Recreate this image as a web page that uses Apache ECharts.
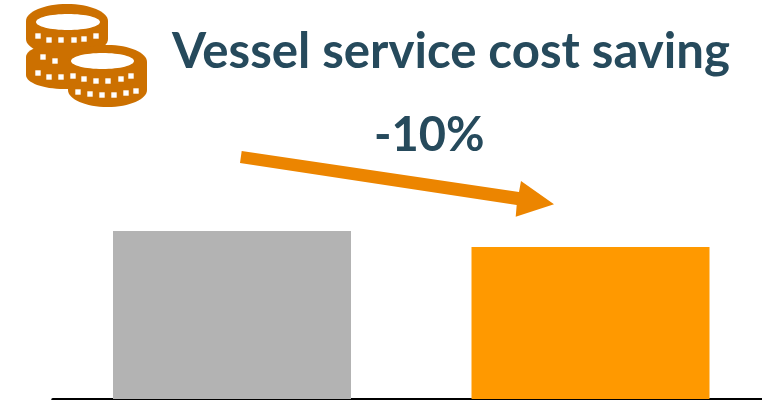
<!DOCTYPE html>
<html>
<head>
<meta charset="utf-8">
<style>html,body{margin:0;padding:0;background:#fff}#chart{width:762px;height:400px}</style>
<script src="https://cdn.jsdelivr.net/npm/echarts@6/dist/echarts.min.js"></script>
</head>
<body>
<div id="chart"></div>
<script>
// Indexed vessel service cost, before and after
const categories = ['Before', 'After'];
const costIndex = [100, 90.5];
const barColors = ['#B3B3B3', '#FF9900'];
const titleText = 'Vessel service cost saving';
const changeText = '-10%';

const TEXT = '#264A5C', ARROW = '#EC8500', COIN = '#CC7000';

function notches(points) {
  return points.map(([x, y]) => ({
    type: 'rect',
    shape: { x: x - 2.7, y: y - 2.7, width: 5.4, height: 5.4 },
    style: { fill: '#fff' }
  }));
}
function ellipse(cx, cy, rx, ry, fill) {
  return { type: 'ellipse', shape: { cx, cy, rx, ry }, style: { fill } };
}
// A coin stack is a flat cylinder: two ellipses joined by a rectangle
function cylinder(cx, rx, top, bottom, ry) {
  return [
    ellipse(cx, top + ry, rx, ry, COIN),
    ellipse(cx, bottom - ry, rx, ry, COIN),
    { type: 'rect', shape: { x: cx - rx, y: top + ry, width: rx * 2, height: bottom - top - ry * 2 }, style: { fill: COIN } }
  ];
}

const coinIcon = [
  ...cylinder(67, 41, 4, 56, 17),
  ...cylinder(64, 38, 43, 89, 14),
  ellipse(68, 22, 32, 8, '#fff'),
  ...notches([[38, 36], [49, 40], [61, 40], [74, 40], [84, 39], [96, 36]]),
  ...notches([[43, 57], [55, 61]]),
  ...notches([[38, 73], [49, 77], [61, 77]]),
  ...cylinder(107.5, 39.5, 45, 107, 17),
  ellipse(102.5, 61, 31.5, 8, '#fff'),
  ...notches([[73, 76], [84, 79], [96, 81], [108, 81], [121, 79], [131, 76]]),
  ...notches([[78, 92], [90, 94], [102, 95], [114, 95], [126, 93], [136, 91]])
];

const trendArrow = {
  type: 'polygon',
  shape: { points: [[241.7, 151], [519, 192], [521, 181], [554, 204.3], [515.7, 216.7], [516.7, 205], [240, 163]] },
  style: { fill: ARROW }
};

const chart = echarts.init(document.getElementById('chart'), null, { renderer: 'canvas' });
chart.setOption({
  animation: false,
  backgroundColor: '#fff',
  title: [
    { text: titleText, left: 172, top: 28, padding: 0,
      textStyle: { fontFamily: 'Lato', fontWeight: 'bold', fontSize: 49.2, color: TEXT } },
    { text: changeText, left: 374, top: 112, padding: 0,
      textStyle: { fontFamily: 'Lato', fontWeight: 'bold', fontSize: 47, color: TEXT } }
  ],
  grid: { left: 52.75, width: 717, top: 231, bottom: 1, outerBoundsMode: 'none' },
  xAxis: {
    type: 'category',
    data: categories,
    axisLine: { lineStyle: { color: '#000', width: 3 } },
    axisTick: { show: false },
    axisLabel: { show: false }
  },
  yAxis: { type: 'value', min: 0, max: 100, show: false, splitLine: { show: false } },
  series: [{
    type: 'bar',
    barWidth: 238,
    data: costIndex.map((value, i) => ({ value, itemStyle: { color: barColors[i] } }))
  }],
  graphic: [...coinIcon, trendArrow]
});
</script>
</body>
</html>
